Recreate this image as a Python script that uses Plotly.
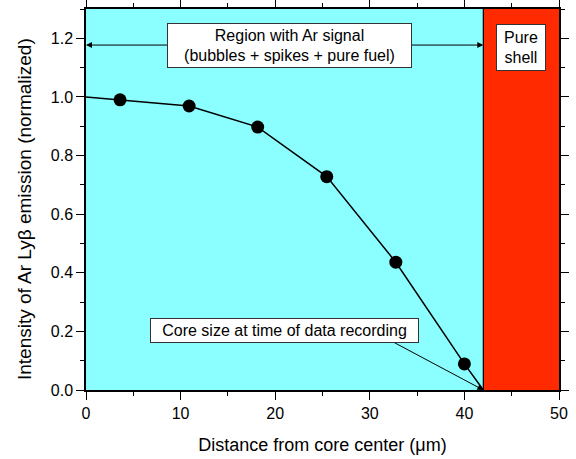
import plotly.graph_objects as go

# Measured Ar Ly-beta emission vs. radial distance
distance = [3.6, 10.9, 18.15, 25.45, 32.75, 40.0]
intensity = [0.99, 0.969, 0.897, 0.728, 0.436, 0.089]

# Line runs from the core center (normalized to 1) to the core edge (zero signal)
center_value = 1.0
core_edge = 42.0
x_max = 50.0
y_max = 1.3

line_x = [0.0] + distance + [core_edge]
line_y = [center_value] + intensity + [0.0]

cyan = "#8BFFFF"
red = "#FF2A00"
font_family = "Liberation Sans, Arial, sans-serif"

fig = go.Figure()

fig.add_trace(go.Scatter(
    x=line_x, y=line_y, mode="lines",
    line=dict(color="black", width=1.5),
    hoverinfo="skip", showlegend=False,
))
fig.add_trace(go.Scatter(
    x=distance, y=intensity, mode="markers",
    marker=dict(color="black", size=13),
    showlegend=False,
))

# Shaded regions: core (Ar signal) and shell
fig.add_shape(type="rect", x0=0, x1=core_edge, y0=0, y1=y_max,
              fillcolor=cyan, line=dict(width=0), layer="below")
fig.add_shape(type="rect", x0=core_edge, x1=x_max, y0=0, y1=y_max,
              fillcolor=red, line=dict(width=0), layer="below")
fig.add_shape(type="line", x0=core_edge, x1=core_edge, y0=0, y1=y_max,
              line=dict(color="black", width=1.2), layer="below")

arrow_y = 1.177
region_text_x = 21.5

# Double-headed arrow spanning the Ar-signal region
for tip in (0.0, core_edge):
    fig.add_annotation(
        x=tip, y=arrow_y, ax=region_text_x, ay=arrow_y,
        xref="x", yref="y", axref="x", ayref="y",
        text="", showarrow=True, arrowhead=2, arrowsize=1.2,
        arrowwidth=1, arrowcolor="black",
    )

fig.add_annotation(
    x=region_text_x, y=arrow_y, xref="x", yref="y",
    text="Region with Ar signal<br>(bubbles + spikes + pure fuel)",
    showarrow=False, font=dict(family=font_family, size=16, color="black"),
    bgcolor="white", bordercolor="#333333", borderwidth=1, borderpad=1,
    width=241, height=41,
)

fig.add_annotation(
    x=46.0, y=1.169, xref="x", yref="y",
    text="Pure<br>shell", showarrow=False,
    font=dict(family=font_family, size=16, color="black"),
    bgcolor="white", bordercolor="#333333", borderwidth=1, borderpad=1,
    width=46, height=43,
)

# Core size pointer
fig.add_annotation(
    x=core_edge, y=0.0, ax=32.46, ay=0.164,
    xref="x", yref="y", axref="x", ayref="y",
    text="", showarrow=True, arrowhead=2, arrowsize=1.2,
    arrowwidth=1, arrowcolor="black",
)
fig.add_annotation(
    x=21.0, y=0.203, xref="x", yref="y",
    text="Core size at time of data recording", showarrow=False,
    font=dict(family=font_family, size=16, color="black"),
    bgcolor="white", bordercolor="#333333", borderwidth=1, borderpad=1,
    width=265, height=21,
)

# Y-axis title placed as a rotated label, slightly below the axis midpoint
fig.add_annotation(
    x=-0.131, y=0.475, xref="paper", yref="paper",
    text="Intensity of Ar Lyβ emission (normalized)", textangle=-90,
    showarrow=False, xanchor="center", yanchor="middle",
    font=dict(family=font_family, size=19, color="black"),
)

axis_common = dict(
    showgrid=False, zeroline=False, showline=True, linecolor="black",
    linewidth=1.5, mirror="ticks", ticks="outside", ticklen=8,
    tickwidth=1.3, tickcolor="black", automargin=False,
    tickfont=dict(family=font_family, size=16, color="black"),
)

fig.update_xaxes(
    range=[0, x_max], tick0=0, dtick=10,
    minor=dict(ticks="outside", ticklen=4, dtick=5, tickcolor="black", tickwidth=1.3),
    title=dict(text="Distance from core center (μm)",
               font=dict(family=font_family, size=18, color="black"), standoff=17),
    **axis_common,
)
fig.update_yaxes(
    range=[0, y_max], tick0=0, dtick=0.2, tickformat=".1f",
    minor=dict(ticks="outside", ticklen=4, dtick=0.1, tickcolor="black", tickwidth=1.3),
    **axis_common,
)

fig.update_layout(
    width=576, height=459,
    margin=dict(l=86, r=17, t=9, b=69),
    paper_bgcolor="white", plot_bgcolor="white",
    showlegend=False,
)

fig.write_html("out.html")
